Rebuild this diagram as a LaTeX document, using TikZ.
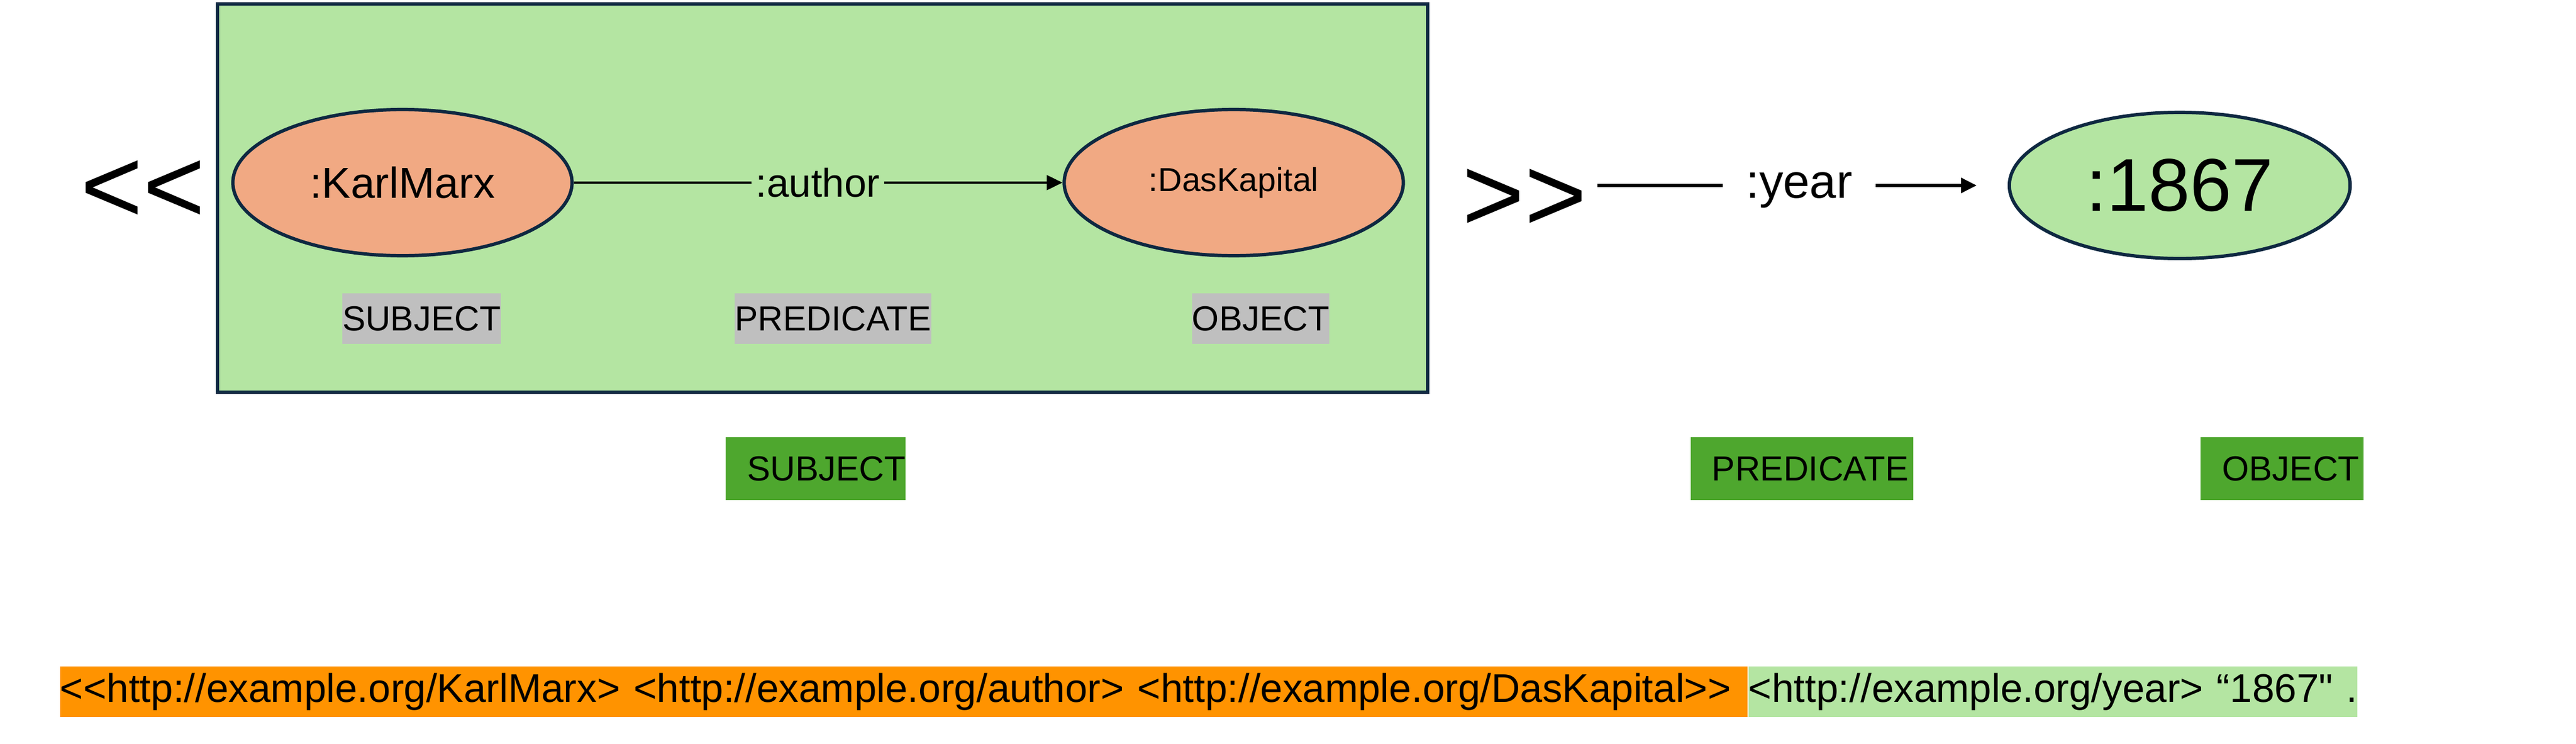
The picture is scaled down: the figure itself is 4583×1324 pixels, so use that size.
\documentclass[tikz,border=0pt]{standalone}
\usepackage{fontspec}
\setmainfont{Liberation Sans}
\usetikzlibrary{positioning}
\usetikzlibrary{shapes.geometric}
\usetikzlibrary{arrows.meta}
\definecolor{boxgreen}{HTML}{B4E5A2}
\definecolor{nodesalmon}{HTML}{F1A983}
\definecolor{edgenavy}{HTML}{0E2841}
\definecolor{tagGray}{HTML}{BFBFBF}
\definecolor{tagGreen}{HTML}{4EA72E}
\definecolor{rdfOrange}{HTML}{FF9300}

\begin{document}
\begin{tikzpicture}[x=0.01cm, y=-0.01cm,
    term/.style={ellipse, draw=edgenavy, line width=1.7pt, minimum width=6.03cm, minimum height=2.6cm, inner sep=0},
    chevron/.style={inner sep=0, font=\fontsize{54}{60}\selectfont},
    link/.style={line width=1.3pt},
    tip/.style={-{Triangle[length=0.28cm, width=0.26cm]}},
    tag/.style={fill=tagGray, inner xsep=0, minimum height=0.89cm, font=\fontsize{17.6}{21}\selectfont},
    roletag/.style={fill=tagGreen, inner xsep=0.38cm, align=left, minimum height=1.11cm, font=\fontsize{17.6}{21}\selectfont},
    ntline/.style={inner xsep=0, minimum height=0.89cm, align=left, font=\fontsize{20.2}{24}\selectfont}]
    \useasboundingbox (0,0) rectangle (4583,1324);
    % quoted triple
    \draw[edgenavy, line width=1.7pt, fill=boxgreen] (387,7) rectangle (2540,698);
    \node[term, fill=nodesalmon, font=\fontsize{21.9}{26}\selectfont] (karl) at (716,325) {:KarlMarx};
    \node[term, fill=nodesalmon, font=\fontsize{16.8}{20}\selectfont] (kapital) at (2195,325) {:DasKapital};
    \node[inner xsep=0.07cm, font=\fontsize{20.2}{24}\selectfont] (author) at (1455,325) {:author};
    \draw[link] (karl) -- (author);
    \draw[link, tip] (author) -- (kapital);
    \node[tag] (subjtag) at (750,567) {SUBJECT};
    \node[tag] (predtag) at (1482,567) {PREDICATE};
    \node[tag] (objtag) at (2243,567) {OBJECT};
    \node[chevron] (open) at (254,341) {<{}<};
    \node[chevron] (close) at (2712,356) {>{}>};
    % outer triple
    \node[inner xsep=0.41cm, text depth=0pt, font=\fontsize{24.2}{28}\selectfont] (year) at (3201,330) {:year};
    \node[term, fill=boxgreen, minimum width=6.06cm, font=\fontsize{37.8}{44}\selectfont] (lit) at (3878,330) {:1867};
    \draw[link, line width=1.85pt, shorten <=0.18cm] (close.east |- year) -- (year);
    \draw[link, line width=1.85pt, tip, shorten >=0.55cm] (year) -- (lit);
    \node[roletag, text width=2.43cm] (subjrole) at (1451,834) {SUBJECT};
    \node[roletag, text width=3.20cm] (predrole) at (3206,834) {PREDICATE};
    \node[roletag, text width=2.13cm] (objrole) at (4060,834) {OBJECT};
    % N-Triples line
    \node[ntline, fill=rdfOrange, text width=30.01cm, anchor=west] (ntquoted) at (106,1231) {<{}<http://example.org/KarlMarx>~<http://example.org/author>~<http://example.org/DasKapital>{}>};
    \node[ntline, fill=boxgreen, text width=10.82cm, right=0pt of ntquoted] (ntyear) {<http://example.org/year>~“1867\textquotedbl~.};
\end{tikzpicture}
\end{document}
